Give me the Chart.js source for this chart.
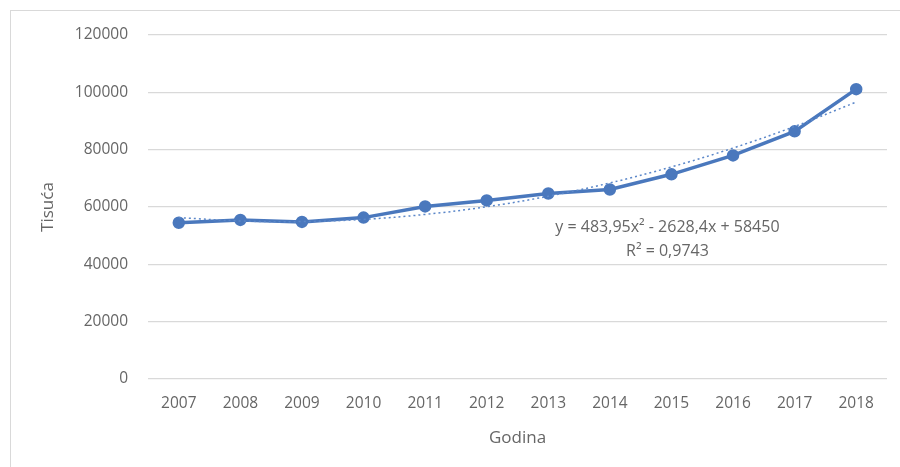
<!DOCTYPE html>
<html>
<head>
<meta charset="utf-8">
<script src="https://cdn.jsdelivr.net/npm/chart.js@4.4.1/dist/chart.umd.min.js"></script>
<style>
  html, body { margin: 0; padding: 0; background: #fff; }
  #wrap { position: relative; width: 900px; height: 467px; }
  #frame { position: absolute; left: 10px; top: 10px; width: 895px; height: 462px; border: 1px solid #d9d9d9; box-sizing: border-box; }
  canvas { position: absolute; left: 0; top: 0; }
</style>
</head>
<body>
<div id="wrap">
  <div id="frame"></div>
  <canvas id="chart" width="900" height="467"></canvas>
</div>
<script>
// values
const years = ['2007', '2008', '2009', '2010', '2011', '2012', '2013', '2014', '2015', '2016', '2017', '2018'];
const tisuca = [54500, 55500, 54800, 56300, 60200, 62300, 64700, 66100, 71400, 78000, 86400, 101100];
// polynomial trendline as drawn (y = 483,95x² - 2628,4x + 58450 at x = 1..12)
const trend = [56306, 55129, 54920, 55680, 57407, 60102, 63765, 68396, 73994, 80561, 88096, 96598];
const yTicks = [0, 20000, 40000, 60000, 80000, 100000, 120000];
const eqLines = ['y = 483,95x² - 2628,4x + 58450', 'R² = 0,9743'];

const blue = '#4a78bd';
const textGray = '#666666';

// equation label next to the trendline
const eqLabel = {
  id: 'eqLabel',
  afterDatasetsDraw(chart) {
    const { ctx, scales } = chart;
    const x = scales.x.getPixelForValue(8);
    const y = scales.y.getPixelForValue(53000);
    ctx.save();
    ctx.fillStyle = textGray;
    ctx.font = '16px "Open Sans", sans-serif';
    ctx.textAlign = 'center';
    ctx.textBaseline = 'middle';
    ctx.fillText(eqLines[0], x - 4, y);
    ctx.fillText(eqLines[1], x - 4, y + 24);
    ctx.restore();
  }
};

new Chart(document.getElementById('chart').getContext('2d'), {
  type: 'line',
  data: {
    labels: years,
    datasets: [{
      label: 'Tisuća',
      data: tisuca,
      borderColor: blue,
      backgroundColor: blue,
      borderWidth: 3.5,
      pointRadius: 4.5,
      pointHoverRadius: 4.5,
      tension: 0,
      order: 1
    }, {
      label: 'Trend',
      data: trend,
      borderColor: '#5b87c9',
      borderWidth: 1.5,
      borderDash: [2, 3],
      pointRadius: 0,
      tension: 0.4,
      order: 0
    }]
  },
  options: {
    responsive: false,
    animation: false,
    layout: { padding: { left: 34, right: 13, top: 35, bottom: 15 } },
    plugins: {
      legend: { display: false },
      tooltip: { enabled: false }
    },
    scales: {
      x: {
        offset: true,
        grid: { display: false, drawTicks: false, offset: true },
        border: { display: false },
        ticks: { color: textGray, font: { family: 'Open Sans', size: 15.5 }, padding: 15 },
        title: { display: true, text: 'Godina', color: textGray, font: { family: 'Open Sans', size: 17 }, padding: { top: 0, bottom: 4 } }
      },
      y: {
        min: 0,
        max: 120000,
        afterBuildTicks(axis) { axis.ticks = yTicks.map(v => ({ value: v })); },
        afterFit(axis) { axis.width = 114; },
        grid: { color: '#d9d9d9', lineWidth: 1.3, drawTicks: false },
        border: { display: false },
        ticks: { color: textGray, font: { family: 'Open Sans', size: 15.5 }, padding: 20, callback: v => String(v) },
        title: { display: true, text: 'Tisuća', color: textGray, font: { family: 'Open Sans', size: 17 }, padding: { top: 4, bottom: 4 } }
      }
    }
  },
  plugins: [eqLabel]
});
</script>
</body>
</html>
